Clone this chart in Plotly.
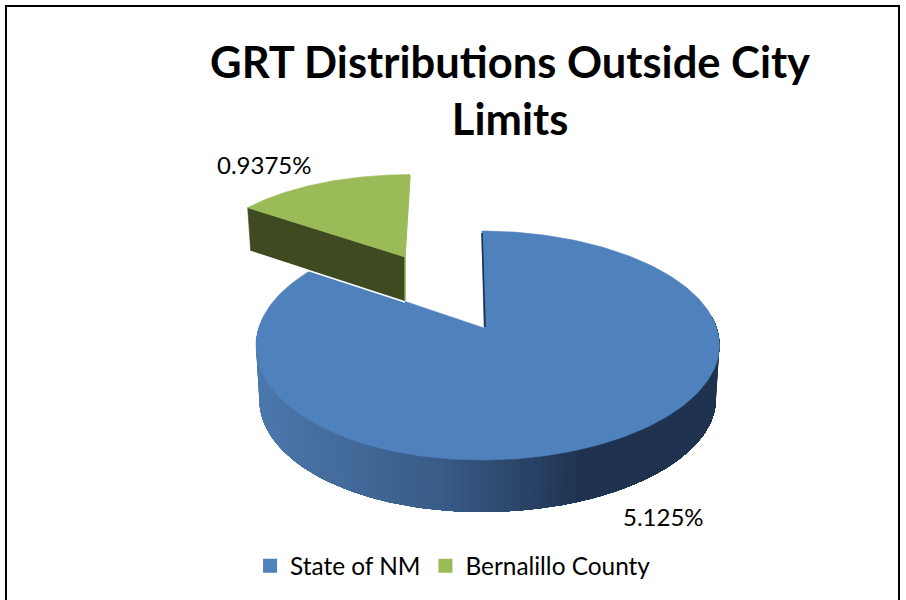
import math
import plotly.graph_objects as go

# ---- data ----
title_lines = ["GRT Distributions Outside City", "Limits"]
labels = ["State of NM", "Bernalillo County"]
values = [5.125, 0.9375]
face_colors = ["#4f81bd", "#9bbb59"]
side_color_green = "#404a20"
side_stops = [(0.0, (76, 120, 172)), (0.4, (56, 90, 134)), (0.69, (31, 51, 80)), (1.0, (31, 51, 80))]

FONT = "Lato, Carlito, Calibri, sans-serif"
total = sum(values)
blue_deg = 360 * values[0] / total
B = 0.153


def proj(theta, cx, cy, rx, ry, drop=0.0, k=1.0):
    t = math.radians(theta)
    u, v = math.sin(t), -math.cos(t)
    d = 1 - B * v
    return (cx + k * rx * u * (1 + 0.025 * u) / d, cy + drop + k * ry * v / d)


def rng(a, b, n):
    return [a + (b - a) * i / n for i in range(n + 1)]


def lerp_color(t):
    for (t0, c0), (t1, c1) in zip(side_stops, side_stops[1:]):
        if t <= t1:
            f = (t - t0) / (t1 - t0)
            c = [round(p + (q - p) * f) for p, q in zip(c0, c1)]
            return f"rgb({c[0]},{c[1]},{c[2]})"
    return "rgb(31,51,80)"


fig = go.Figure()


def poly(xs, ys, color, width=0.0, line=None):
    fig.add_trace(go.Scatter(x=xs, y=ys, mode="lines", fill="toself", fillcolor=color,
                             line=dict(color=line or color, width=width),
                             hoverinfo="skip", showlegend=False))


# --- large slice: side wall, painted left to right; each band covers everything to its right
CX, CY, RX, RY, DROP = 482, 328, 229, 111.8, 54
steps = 120
angles = rng(276, 84, steps)
for i in range(steps):
    span = angles[i:]
    top = [proj(a, CX, CY, RX, RY) for a in span]
    bot = [proj(a, CX, CY, RX, RY, DROP, 0.985) for a in reversed(span)]
    t = (top[0][0] - 256) / 464
    pts = top + bot + [top[0]]
    poly([p[0] for p in pts], [p[1] for p in pts], lerp_color(max(0, min(1, t))))

# --- large slice: top face ---
rim = [proj(a, CX, CY, RX, RY) for a in rng(0, blue_deg, 240)]
poly([484] + [p[0] for p in rim] + [484], [328] + [p[1] for p in rim] + [328], face_colors[0], 0.6)
# thin dark inner wall at the start of the slice
fig.add_trace(go.Scatter(x=[482, 485], y=[233, 327], mode="lines",
                         line=dict(color="#1c3350", width=1.6), hoverinfo="skip", showlegend=False))

# --- small exploded slice ---
GX, GY, GRX, GRY, GDROP = 405, 257, 218, 95, 43
grim = [proj(a, GX + 5, GY, GRX, GRY) for a in rng(blue_deg, 360, 80)]
corner = grim[0]
poly([corner[0], 405, 405, corner[0] + 3, corner[0]],
     [corner[1], 257, 257 + GDROP + 1, corner[1] + GDROP, corner[1]], side_color_green, 0.6)
fig.add_trace(go.Scatter(x=[corner[0] + 3, 405], y=[corner[1] + GDROP + 1, 257 + GDROP + 2], mode="lines",
                         line=dict(color="white", width=1.5), hoverinfo="skip", showlegend=False))
poly([405] + [p[0] for p in grim] + [405], [257] + [p[1] for p in grim] + [257], face_colors[1], 0.6)
fig.add_trace(go.Scatter(x=[410, 405, 405], y=[176, 257, 300], mode="lines",
                         line=dict(color=face_colors[1], width=1.2), hoverinfo="skip", showlegend=False))

# --- legend entries ---
for name, col in zip(labels, face_colors):
    fig.add_trace(go.Scatter(x=[None], y=[None], mode="markers", name=name,
                             marker=dict(symbol="square", size=14, color=col)))

# --- data labels ---
fmt = [f"{v}%" for v in values]
fig.add_annotation(x=663, y=516, text=fmt[0], showarrow=False, font=dict(size=24, color="black", family=FONT))
fig.add_annotation(x=264, y=164, text=fmt[1], showarrow=False, font=dict(size=24, color="black", family=FONT))

fig.update_layout(
    width=906, height=600, margin=dict(l=0, r=0, t=0, b=0),
    paper_bgcolor="white", plot_bgcolor="white",
    title=dict(text="<br>".join(title_lines), x=0.563, xanchor="center", y=0.870, yanchor="middle",
               font=dict(family=FONT, size=43.5, color="black", weight="bold")),
    xaxis=dict(range=[0, 906], visible=False, fixedrange=True),
    yaxis=dict(range=[600, 0], visible=False, fixedrange=True),
    legend=dict(orientation="h", x=0.276, xanchor="left", y=0.057, yanchor="middle",
                font=dict(family=FONT, size=24.4, color="black"), itemwidth=30,
                bgcolor="rgba(0,0,0,0)"),
    shapes=[dict(type="path", path="M 6 600 L 6 6 L 899 6 L 899 600", xref="x", yref="y",
                 line=dict(color="black", width=2))],
)
fig.write_html("out.html", config={"displayModeBar": False},
               post_script="document.body.style.margin='0';document.body.style.overflow='hidden';")
